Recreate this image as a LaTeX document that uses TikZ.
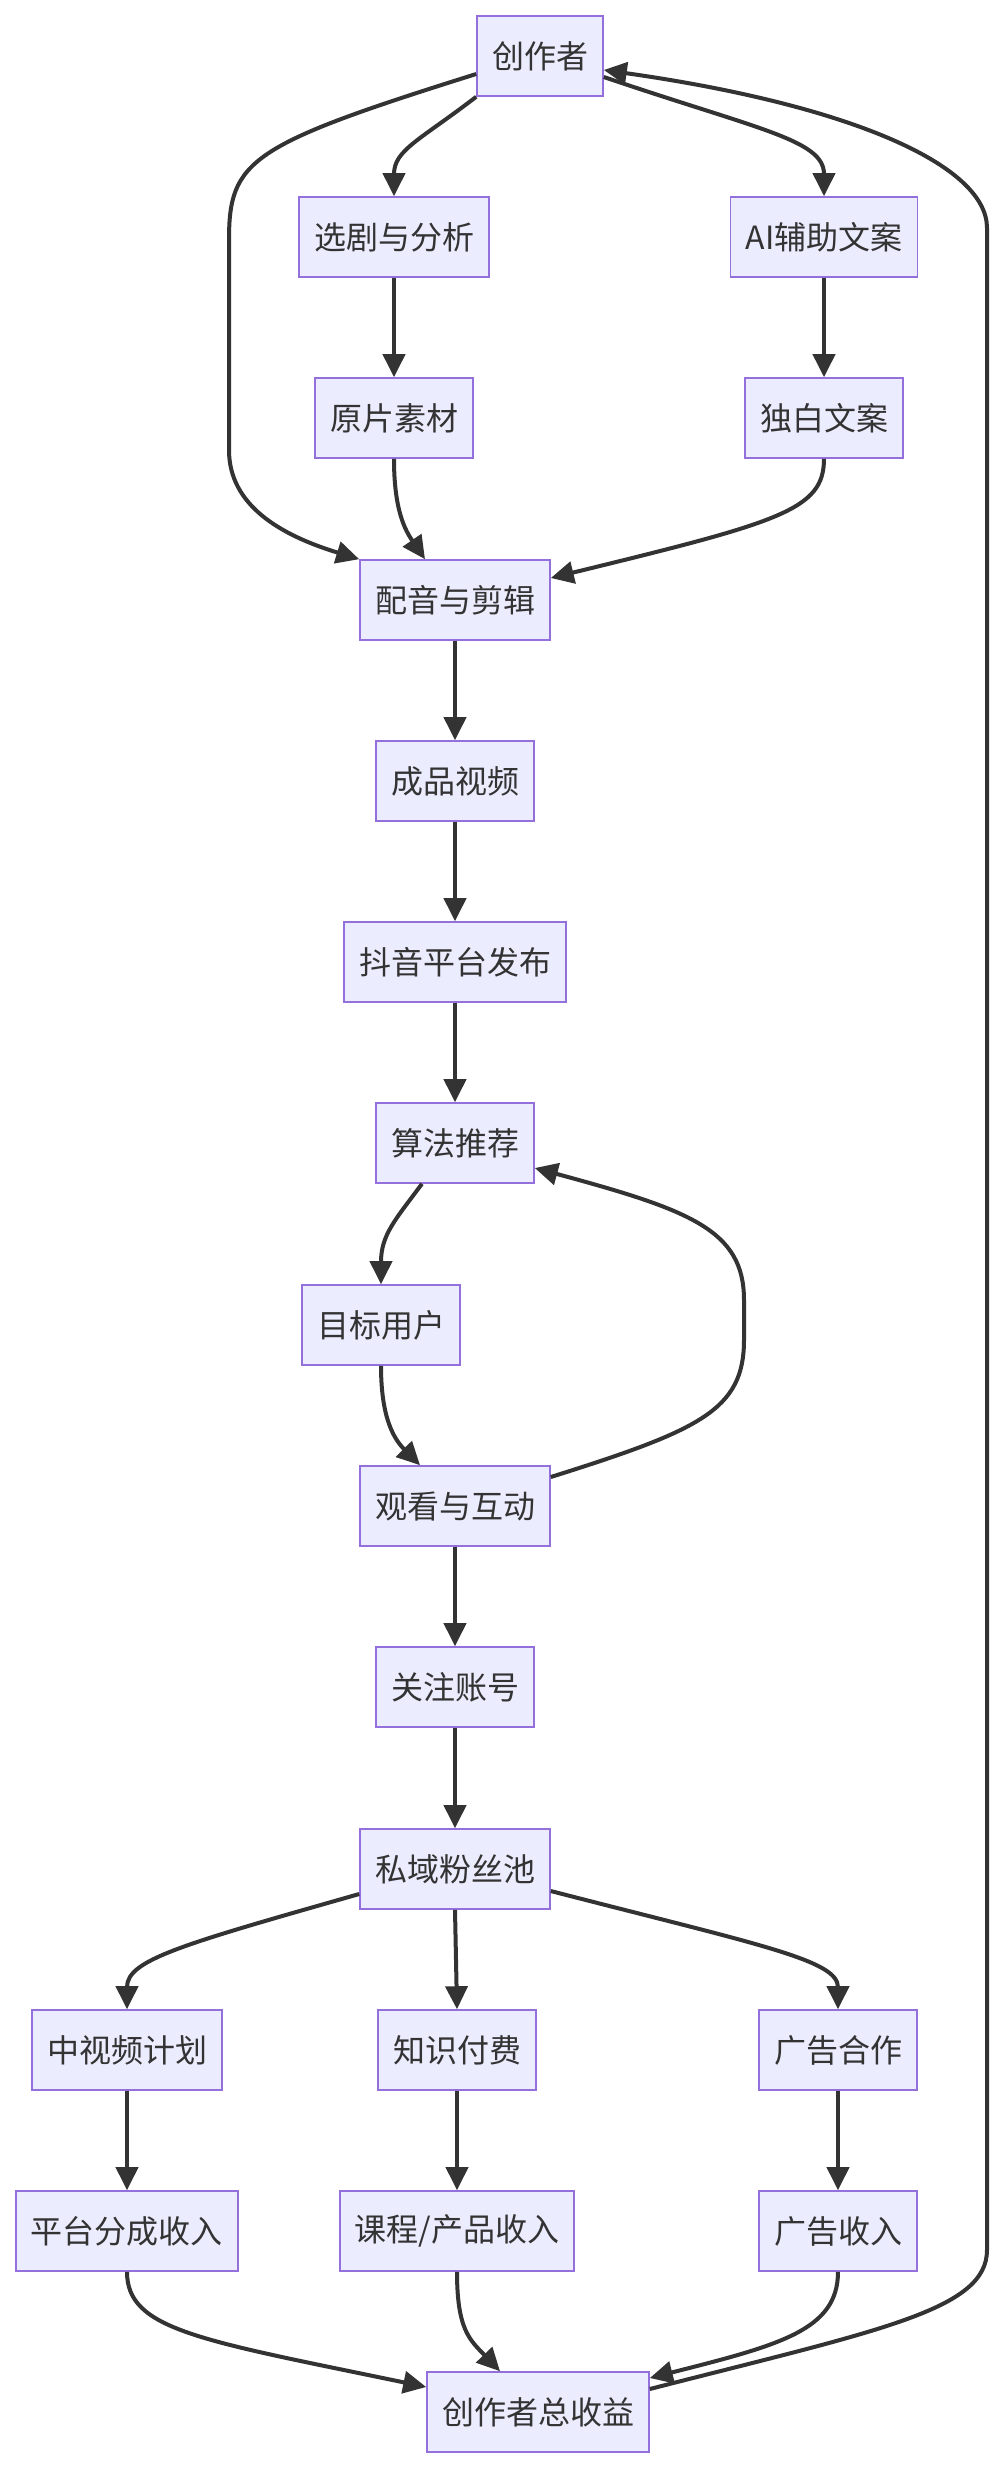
\documentclass[tikz,border=0pt]{standalone}
\usepackage{fontspec}
\newfontfamily\cjk{Noto Sans CJK SC}
\usetikzlibrary{arrows.meta}
\definecolor{boxfill}{HTML}{ECECFF}
\definecolor{boxborder}{HTML}{9370DB}
\definecolor{linec}{HTML}{333333}
\begin{document}
\begin{tikzpicture}[x=0.5pt,y=-0.5pt,
  box/.style={draw=boxborder, fill=boxfill, line width=0.8pt, minimum height=40pt,
    inner xsep=7.5pt, inner ysep=0pt, text=linec, font=\cjk\fontsize{16}{16}\selectfont},
  arr/.style={draw=linec, line width=2pt, -{Triangle[length=11.5pt,width=11pt]}}]
\useasboundingbox (0,0) rectangle (1004,2470);
\fill[white] (0,0) rectangle (1004,2470);
% nodes
\node[box] (A) at (540,56) {创作者};
\node[box] (B) at (394,237) {选剧与分析};
\node[box] (C) at (824,237) {AI辅助文案};
\node[box] (D) at (394,418) {原片素材};
\node[box] (E) at (824,418) {独白文案};
\node[box] (F) at (455,600) {配音与剪辑};
\node[box] (G) at (455,781) {成品视频};
\node[box] (H) at (455,962) {抖音平台发布};
\node[box] (I) at (455,1143) {算法推荐};
\node[box] (J) at (381,1325) {目标用户};
\node[box] (K) at (455,1506) {观看与互动};
\node[box] (L) at (455,1687) {关注账号};
\node[box] (M) at (455,1869) {私域粉丝池};
\node[box] (N) at (127,2050) {中视频计划};
\node[box] (O) at (457,2050) {知识付费};
\node[box] (P) at (838,2050) {广告合作};
\node[box] (Q) at (127,2231) {平台分成收入};
\node[box] (R) at (457,2231) {课程/产品收入};
\node[box] (S) at (838,2231) {广告收入};
\node[box] (T) at (538,2412) {创作者总收益};
% edges
\draw[arr] (A.south west) .. controls (420,140) and (394,150) .. (B.north);
\draw[arr] ([yshift=-9pt]A.west) .. controls (250,145) and (229,160) .. (229,240)
  -- (229,450) .. controls (229,505) and (280,535) .. (F.north west);
\draw[arr] ([yshift=-10.5pt]A.east) .. controls (760,130) and (824,140) .. (C.north);
\draw[arr] ([yshift=11.5pt]T.east) .. controls (880,2330) and (987,2310) .. (987,2250)
  -- (987,228) .. controls (987,165) and (850,105) .. ([yshift=-7pt]A.east);
\draw[arr] (B) -- (D);
\draw[arr] (C) -- (E);
\draw[arr] (D.south) .. controls (394,510) and (405,530) .. ([xshift=-15pt]F.north);
\draw[arr] (E.south) .. controls (824,510) and (780,522) .. ([yshift=11pt]F.east);
\draw[arr] (F) -- (G);
\draw[arr] (G) -- (H);
\draw[arr] (H) -- (I);
\draw[arr] ([xshift=-16.5pt]I.south) .. controls (395,1220) and (381,1235) .. (J.north);
\draw[arr] (J.south) .. controls (381,1420) and (395,1440) .. ([xshift=-17.5pt]K.north);
\draw[arr] ([yshift=14.5pt]K.east) .. controls (700,1430) and (744,1410) .. (744,1340)
  -- (744,1300) .. controls (744,1230) and (690,1210) .. ([yshift=-12.5pt]I.east);
\draw[arr] (K) -- (L);
\draw[arr] (L) -- (M);
\draw[arr] ([yshift=-12.5pt]M.west) .. controls (180,1945) and (127,1960) .. (N.north);
\draw[arr] (M.south) -- (O.north);
\draw[arr] ([yshift=-11pt]M.east) .. controls (760,1945) and (838,1960) .. (P.north);
\draw[arr] (N) -- (Q);
\draw[arr] (O) -- (R);
\draw[arr] (P) -- (S);
\draw[arr] (Q.south) .. controls (127,2330) and (200,2340) .. ([yshift=12.5pt]T.west);
\draw[arr] (R.south) .. controls (457,2330) and (470,2340) .. ([xshift=-19pt]T.north);
\draw[arr] (S.south) .. controls (838,2330) and (780,2345) .. ([yshift=17pt]T.east);
\end{tikzpicture}
\end{document}
